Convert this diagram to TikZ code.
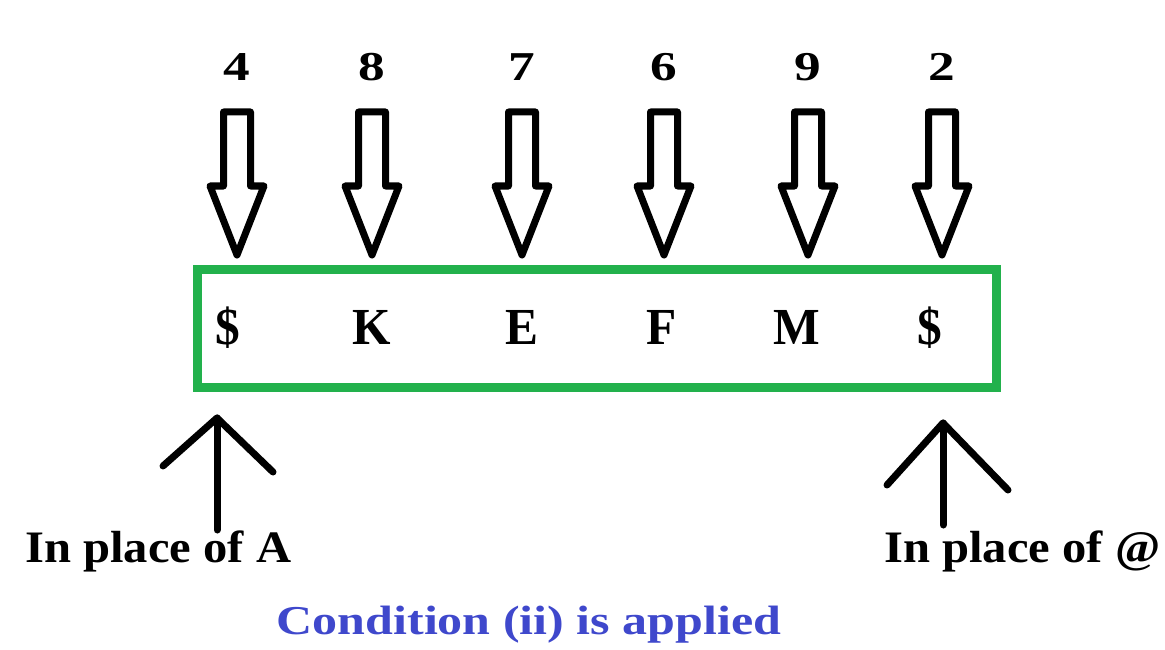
\documentclass[tikz,border=0pt]{standalone}
\usepackage{fontspec}
\setmainfont{Liberation Serif}
\newfontfamily\lblfont[FakeStretch=1.08]{Liberation Serif}
\newfontfamily\capfont[FakeStretch=1.22]{Liberation Serif}
\newfontfamily\digfont[FakeStretch=1.3]{Liberation Serif}
\newfontfamily\letfont[FakeStretch=0.95]{Liberation Serif}
\definecolor{paintgreen}{RGB}{34,177,76}
\definecolor{paintblue}{RGB}{63,72,204}
\tikzset{
  digit/.style={font=\digfont\fontsize{41}{44}\selectfont\bfseries, inner sep=0pt, anchor=base},
  letter/.style={font=\letfont\fontsize{52}{56}\selectfont\bfseries, inner sep=0pt, anchor=base},
  hollow/.style={draw=black, line width=7pt, line join=round},
  uparrow/.style={draw=black, line width=7pt, line cap=round, line join=round},
  lbl/.style={font=\lblfont\fontsize{45}{50}\selectfont\bfseries, inner sep=0pt, anchor=base west},
  captext/.style={font=\capfont\fontsize{41}{46}\selectfont\bfseries, text=paintblue, inner sep=0pt, anchor=base},
  greenbox/.style={draw=paintgreen, line width=9pt, inner sep=0pt},
  hollowarrow/.pic={\draw[hollow] (-13.5,0) -- (13.5,0) -- (13.5,74) -- (27,74) -- (0,143) -- (-27,74) -- (-13.5,74) -- cycle;}
}
\begin{document}
\begin{tikzpicture}[x=1pt,y=-1pt]
\useasboundingbox (0,0) rectangle (1165,650);
% green box
\node[greenbox, minimum width=799pt, minimum height=118pt, anchor=north west] (box) at (193,265) {};
% digits and hollow arrows
\foreach \x/\d [count=\i] in {237/4, 372/8, 522/7, 664/6, 808/9, 942/2}{
  \node[digit] (d\i) at (\x,81) {\d};
  \pic at (\x,112) {hollowarrow};
}
% letters in the box
\node[letter] (l1) at (228,344) {\$};
\node[letter] (l2) at (372,344) {K};
\node[letter] (l3) at (522,344) {E};
\node[letter] (l4) at (662,344) {F};
\node[letter] (l5) at (797,344) {M};
\node[letter] (l6) at (930,344) {\$};
% bottom labels
\node[lbl] (labA) at (25,562) {In place of A};
\node[lbl] (labAt) at (884,562) {In place of @};
\node[captext] (cap) at (529,634) {Condition (ii) is applied};
% up arrows
\coordinate (tipA) at (217,418);
\coordinate (baseA) at (217,530);
\coordinate (tipB) at (943,423);
\coordinate (baseB) at (943,525);
\draw[uparrow] (baseA) -- (tipA);
\draw[uparrow] (163,466) -- (tipA) -- (273,472);
\draw[uparrow] (baseB) -- (tipB);
\draw[uparrow] (887,485) -- (tipB) -- (1008,490);
\end{tikzpicture}
\end{document}
